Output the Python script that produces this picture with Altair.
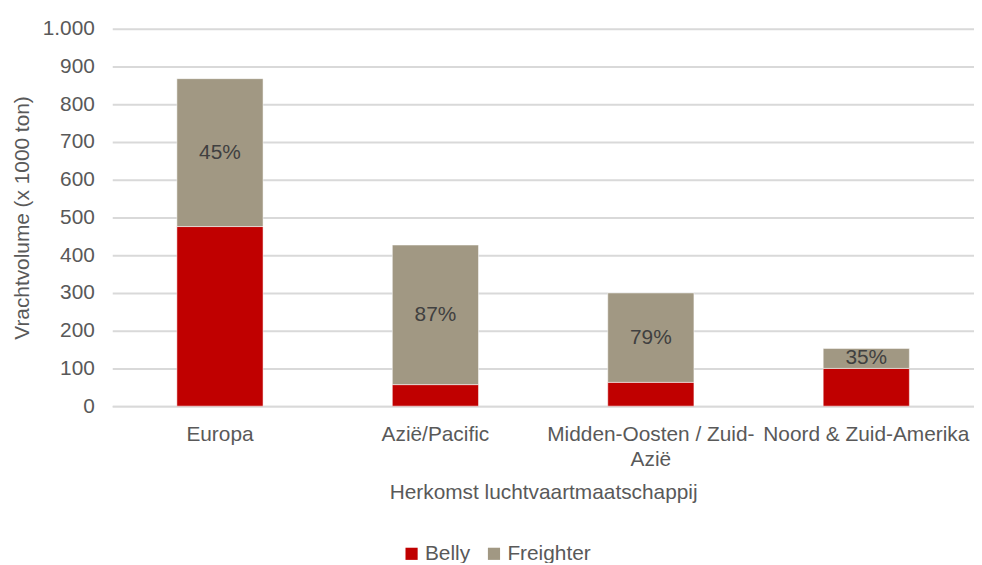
import altair as alt
import pandas as pd

categories = ["Europa", "Azië/Pacific", "Midden-Oosten / Zuid-Azië", "Noord & Zuid-Amerika"]
belly = [476, 57, 63, 100]
freighter = [392, 370, 237, 53]
freighter_pct = ["45%", "87%", "79%", "35%"]
series = ["Belly", "Freighter"]
colors = ["#C00000", "#A19883"]
y_ticks = [0, 100, 200, 300, 400, 500, 600, 700, 800, 900, 1000]

rows = []
for c, b, f in zip(categories, belly, freighter):
    rows.append({"cat": c, "serie": "Belly", "val": b, "ord": 0})
    rows.append({"cat": c, "serie": "Freighter", "val": f, "ord": 1})
long_df = pd.DataFrame(rows)
wide_df = pd.DataFrame({"cat": categories, "belly": belly, "freighter": freighter, "pct": freighter_pct})

FONT = "Liberation Sans"
GRAY = "#595959"

x_axis = alt.Axis(
    title="Herkomst luchtvaartmaatschappij",
    labelAngle=0,
    labelExpr="datum.label == 'Midden-Oosten / Zuid-Azië' ? ['Midden-Oosten / Zuid-', 'Azië'] : datum.label",
    labelPadding=18,
    labelLineHeight=25,
    labelLimit=0,
    labelOverlap=False,
    titlePadding=12,
    ticks=False,
    domainColor="#D9D9D9",
    domainWidth=2,
)
y_axis = alt.Axis(
    title="Vrachtvolume (x 1000 ton)",
    values=y_ticks,
    labelExpr="replace(format(datum.value, ','), ',', '.')",
    labelOverlap=False,
    labelPadding=18,
    titlePadding=10,
    ticks=False,
    domain=False,
    gridColor="#D9D9D9",
    gridWidth=2,
)
x_scale = alt.Scale(paddingInner=0.6, paddingOuter=0.3)
y_scale = alt.Scale(domain=[0, 1000], nice=False)

bars = alt.Chart(long_df).mark_bar(stroke="white", strokeWidth=0.5).encode(
    x=alt.X("cat:N", sort=categories, scale=x_scale, axis=x_axis),
    y=alt.Y("val:Q", stack="zero", scale=y_scale, axis=y_axis),
    color=alt.Color(
        "serie:N",
        sort=series,
        scale=alt.Scale(domain=series, range=colors),
        legend=alt.Legend(
            title=None,
            orient="none",
            direction="horizontal",
            legendX=291,
            legendY=518,
            symbolType="square",
            symbolSize=150,
            symbolStrokeWidth=0,
            labelFontSize=21,
            labelFont=FONT,
            labelColor=GRAY,
            columnPadding=13,
            labelOffset=3,
        ),
    ),
    order=alt.Order("ord:Q"),
)

texts = alt.Chart(wide_df).transform_calculate(
    mid="datum.belly + datum.freighter / 2"
).mark_text(font=FONT, fontSize=21, color="#404040", baseline="middle").encode(
    x=alt.X("cat:N", sort=categories, scale=x_scale, axis=x_axis),
    y=alt.Y("mid:Q", scale=y_scale, axis=y_axis),
    text="pct:N",
)

chart = (
    alt.layer(bars, texts)
    .properties(
        width=868,
        height=380,
        autosize=alt.AutoSizeParams(type="none"),
        padding={"left": 105, "top": 19, "right": 0, "bottom": 156},
    )
    .configure_view(stroke=None)
    .configure_axis(
        labelFont=FONT,
        titleFont=FONT,
        labelFontSize=21,
        titleFontSize=21,
        labelColor=GRAY,
        titleColor=GRAY,
        titleFontWeight="normal",
    )
)

chart.save("out.html", embed_options={"renderer": "svg", "actions": False})
